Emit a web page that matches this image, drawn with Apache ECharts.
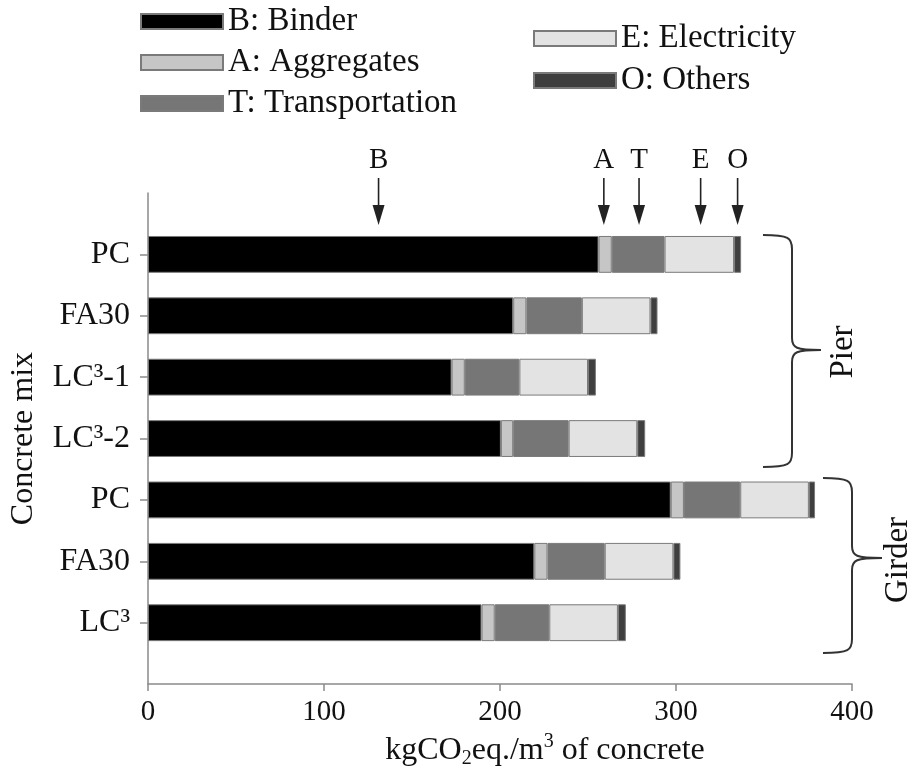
<!DOCTYPE html>
<html>
<head>
<meta charset="utf-8">
<script src="https://cdn.jsdelivr.net/npm/echarts@6/dist/echarts.min.js"></script>
<style>
html,body{margin:0;padding:0;background:#fff;}
#chart{width:915px;height:774px;}
</style>
</head>
<body>
<div id="chart"></div>
<script>
// Category labels (top to bottom); padded with empty slots at both ends
const mixLabels = ['PC', 'FA30', 'LC³-1', 'LC³-2', 'PC', 'FA30', 'LC³'];
// Series values (kgCO2eq./m3)
const binder         = [256, 207.5, 172.5, 200.5, 297, 219.5, 189.5];
const aggregates     = [7.5, 7.5, 7.5, 7, 7.5, 7.5, 7.5];
const transportation = [30, 31.5, 31, 31.5, 32, 32.5, 31];
const electricity    = [39.5, 39, 39, 39, 39, 39, 39];
const others         = [4, 4, 4.5, 4.5, 3.5, 4, 4.5];
const seriesNames = ['B: Binder', 'A: Aggregates', 'T: Transportation', 'E: Electricity', 'O: Others'];
// Arrow annotations above the first bar
const arrowLetters = ['B', 'A', 'T', 'E', 'O'];
const arrowValues  = [131, 259, 279, 314, 335];
const xTicks = [0, 100, 200, 300, 400];

const FONT = '"Liberation Serif", "Times New Roman", serif';
const colors = ['#000000', '#c6c6c6', '#767676', '#e3e3e3', '#3f3f3f'];
const seriesValues = [binder, aggregates, transportation, electricity, others];

const cats = [''].concat(mixLabels).concat(['']);
function pad(arr) { return ['-'].concat(arr).concat(['-']); }

const chart = echarts.init(document.getElementById('chart'));

const series = seriesValues.map((vals, i) => ({
  name: seriesNames[i],
  type: 'bar',
  stack: 'total',
  data: pad(vals),
  barWidth: '60%',
  itemStyle: { color: colors[i], borderColor: '#7a7a7a', borderWidth: 1 },
  emphasis: { disabled: true }
}));

series.push({
  type: 'custom',
  name: 'arrows',
  coordinateSystem: 'cartesian2d',
  clip: false,
  silent: true,
  encode: { x: 0, y: 1 },
  data: arrowValues.map((v, i) => [v, 0]),
  renderItem: function (params, api) {
    const p = api.coord([api.value(0), api.value(1)]);
    const x = p[0], y = p[1];
    const letter = arrowLetters[params.dataIndex];
    return {
      type: 'group',
      children: [
        { type: 'line', shape: { x1: x, y1: y - 15, x2: x, y2: y + 14 }, style: { stroke: '#222', lineWidth: 1.6 } },
        { type: 'polygon', shape: { points: [[x - 6, y + 12], [x + 6, y + 12], [x, y + 32]] }, style: { fill: '#222' } },
        { type: 'text', style: { text: letter, x: x, y: y - 33, align: 'center', verticalAlign: 'middle', font: '29px ' + FONT, fill: '#111' } }
      ]
    };
  }
});

function brace(x0, x1, tip, yTop, yMid, yBot) {
  const st = { stroke: '#333', lineWidth: 2, fill: null };
  return [
    { type: 'bezierCurve', shape: { x1: x0, y1: yTop, cpx1: x1 - 3, cpy1: yTop, cpx2: x1, cpy2: yTop + 3, x2: x1, y2: yTop + 14 }, style: st },
    { type: 'line', shape: { x1: x1, y1: yTop + 14, x2: x1, y2: yMid - 12 }, style: st },
    { type: 'bezierCurve', shape: { x1: x1, y1: yMid - 12, cpx1: x1, cpy1: yMid - 2, cpx2: x1 + 4, cpy2: yMid, x2: tip, y2: yMid }, style: st },
    { type: 'bezierCurve', shape: { x1: tip, y1: yMid, cpx1: x1 + 4, cpy1: yMid, cpx2: x1, cpy2: yMid + 2, x2: x1, y2: yMid + 12 }, style: st },
    { type: 'line', shape: { x1: x1, y1: yMid + 12, x2: x1, y2: yBot - 14 }, style: st },
    { type: 'bezierCurve', shape: { x1: x1, y1: yBot - 14, cpx1: x1, cpy1: yBot - 3, cpx2: x1 - 3, cpy2: yBot, x2: x0, y2: yBot }, style: st }
  ];
}

const option = {
  animation: false,
  backgroundColor: '#ffffff',
  grid: { left: 145, right: 63, top: 193, bottom: 87, containLabel: false },
  legend: [
    {
      data: seriesNames.slice(0, 3),
      orient: 'vertical', left: 135, top: 0, itemGap: 8,
      icon: 'rect',
      itemWidth: 82, itemHeight: 15, itemTextGap: 6,
      textStyle: { fontFamily: FONT, fontSize: 33, color: '#111' },
      selectedMode: false
    },
    {
      data: seriesNames.slice(3),
      orient: 'vertical', left: 528, top: 17, itemGap: 9,
      icon: 'rect',
      itemWidth: 82, itemHeight: 15, itemTextGap: 6,
      textStyle: { fontFamily: FONT, fontSize: 33, color: '#111' },
      selectedMode: false
    }
  ],
  xAxis: {
    type: 'value', min: xTicks[0], max: xTicks[xTicks.length - 1], interval: 100,
    name: 'kgCO{sub|2}eq./m{sup|3} of concrete',
    nameLocation: 'middle', nameGap: 44,
    nameTextStyle: {
      fontFamily: FONT, fontSize: 32, color: '#111', padding: [0, 0, 0, 90],
      rich: {
        sub: { fontFamily: FONT, fontSize: 20, color: '#111', verticalAlign: 'bottom', lineHeight: 24 },
        sup: { fontFamily: FONT, fontSize: 20, color: '#111', verticalAlign: 'top', lineHeight: 37 }
      }
    },
    axisLine: { show: true, lineStyle: { color: '#8a8a8a', width: 1.5 } },
    axisTick: { show: true, length: 7, lineStyle: { color: '#8a8a8a', width: 1.5 } },
    axisLabel: { fontFamily: FONT, fontSize: 29, color: '#111', margin: 14 },
    splitLine: { show: false }
  },
  yAxis: {
    type: 'category', inverse: true, boundaryGap: false, data: cats,
    name: 'Concrete mix', nameLocation: 'middle', nameGap: 108,
    nameTextStyle: { fontFamily: FONT, fontSize: 32, color: '#111' },
    axisLine: { show: true, lineStyle: { color: '#8a8a8a', width: 1.5 } },
    axisTick: { show: true, length: 8, interval: (idx, val) => val !== '', lineStyle: { color: '#8a8a8a', width: 1.5 } },
    axisLabel: { fontFamily: FONT, fontSize: 32, color: '#111', margin: 18, interval: 0 },
    splitLine: { show: false }
  },
  graphic: [].concat(
    brace(763, 792, 821, 235, 350, 467),
    brace(823, 852, 882, 478, 558, 653),
    [
      { type: 'text', x: 843, y: 352, rotation: Math.PI / 2, style: { text: 'Pier', font: '33px ' + FONT, fill: '#111', align: 'center', verticalAlign: 'middle' } },
      { type: 'text', x: 898, y: 560, rotation: Math.PI / 2, style: { text: 'Girder', font: '33px ' + FONT, fill: '#111', align: 'center', verticalAlign: 'middle' } }
    ]
  ),
  series: series
};

chart.setOption(option);
</script>
</body>
</html>
